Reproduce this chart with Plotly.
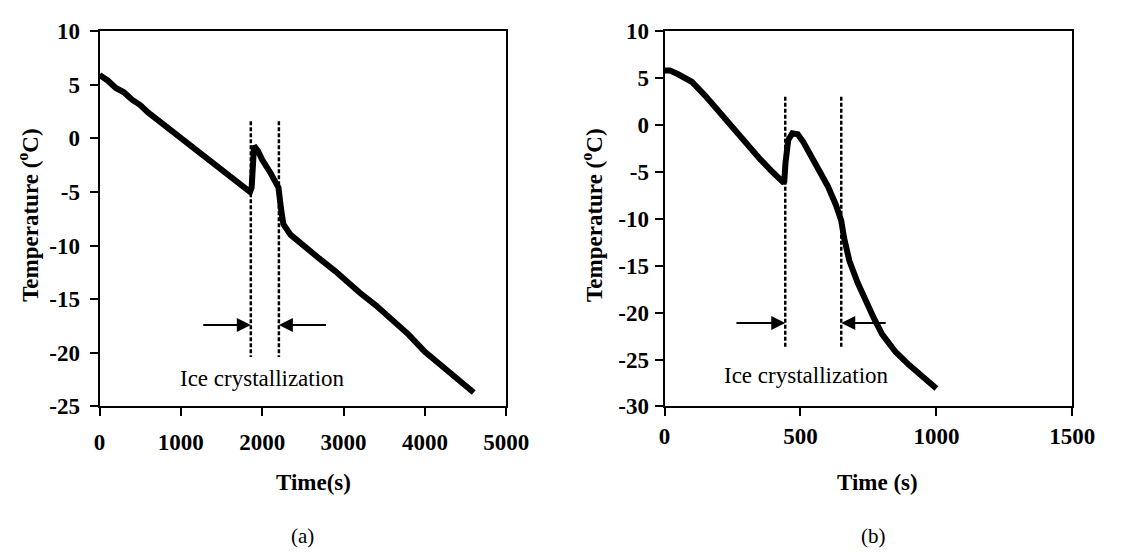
import plotly.graph_objects as go

# ---------------- data ----------------
# Panel (a)
time_a = [0, 100, 200, 300, 400, 500, 600, 700, 800, 900, 1000, 1100, 1200, 1300, 1400,
          1500, 1600, 1700, 1800, 1850, 1870, 1885, 1900, 1950, 2000, 2100, 2200, 2230,
          2260, 2350, 2500, 2700, 2900, 3000, 3200, 3400, 3600, 3800, 4000, 4200, 4400,
          4500, 4600]
temp_a = [5.9, 5.4, 4.7, 4.3, 3.6, 3.1, 2.4, 1.8, 1.2, 0.6, 0.0, -0.5, -1.2, -1.8, -2.3,
          -2.9, -3.5, -4.1, -4.7, -5.0, -4.6, -1.5, -0.7, -1.2, -2.0, -3.2, -4.6, -6.5,
          -8.0, -9.0, -10.0, -11.2, -12.4, -13.1, -14.4, -15.6, -16.9, -18.3, -19.9, -21.2,
          -22.5, -23.0, -23.7]
dash_a_x = [1860, 2205]
dash_a_y = [1.6, -20.4]
arrow_a_y = -17.4
arrow_a_left = [1257, 1860]    # tail, head
arrow_a_right = [2802, 2205]   # tail, head
label_a_pos = [2000, -22.4]

# Panel (b)
time_b = [0, 20, 50, 100, 150, 200, 250, 300, 350, 400, 440, 445, 455, 470, 490, 510, 530,
          560, 600, 630, 650, 660, 680, 710, 740, 770, 800, 850, 900, 950, 1000]
temp_b = [5.8, 5.8, 5.4, 4.6, 3.1, 1.4, -0.2, -1.9, -3.6, -5.1, -6.2, -4.0, -1.6, -0.9,
          -1.0, -1.8, -2.9, -4.4, -6.5, -8.5, -10.2, -12.0, -14.5, -16.8, -18.8, -20.6,
          -22.3, -24.2, -25.6, -26.9, -28.1]
dash_b_x = [444, 650]
dash_b_y = [3.0, -23.8]
arrow_b_y = -21.1
arrow_b_left = [259, 444]
arrow_b_right = [819, 650]
label_b_pos = [523, -26.7]

# ticks
xtick_a = [0, 1000, 2000, 3000, 4000, 5000]
ytick_a = [10, 5, 0, -5, -10, -15, -20, -25]
xtick_b = [0, 500, 1000, 1500]
ytick_b = [10, 5, 0, -5, -10, -15, -20, -25, -30]

label_text = "Ice crystallization"
xtitle_a = "Time(s)"
xtitle_b = "Time (s)"
ytitle = "Temperature (<sup>o</sup>C)"

# ---------------- figure ----------------
W, H = 1123, 556
FONT = "Liberation Serif"
fig = go.Figure()

curve_style = dict(mode="lines", line=dict(color="black", width=6), showlegend=False,
                   hoverinfo="skip")
fig.add_trace(go.Scatter(x=time_a, y=temp_a, xaxis="x", yaxis="y", **curve_style))
fig.add_trace(go.Scatter(x=time_b, y=temp_b, xaxis="x2", yaxis="y2", **curve_style))

dash_style = dict(mode="lines", line=dict(color="black", width=2.5, dash="4px,2px"),
                  showlegend=False, hoverinfo="skip")
for xv in dash_a_x:
    fig.add_trace(go.Scatter(x=[xv, xv], y=dash_a_y, xaxis="x", yaxis="y", **dash_style))
for xv in dash_b_x:
    fig.add_trace(go.Scatter(x=[xv, xv], y=dash_b_y, xaxis="x2", yaxis="y2", **dash_style))

annotations = []


def arrow(xr, yr, tail, head, yv):
    return dict(x=head, y=yv, ax=tail, ay=yv, xref=xr, yref=yr, axref=xr, ayref=yr,
                text="", showarrow=True, arrowhead=2, arrowsize=1.4, arrowwidth=2,
                arrowcolor="black", standoff=0, startstandoff=0)


annotations.append(arrow("x", "y", arrow_a_left[0], arrow_a_left[1], arrow_a_y))
annotations.append(arrow("x", "y", arrow_a_right[0], arrow_a_right[1], arrow_a_y))
annotations.append(arrow("x2", "y2", arrow_b_left[0], arrow_b_left[1], arrow_b_y))
annotations.append(arrow("x2", "y2", arrow_b_right[0], arrow_b_right[1], arrow_b_y))

txt_font = dict(family=FONT, size=23, color="black")
annotations.append(dict(x=label_a_pos[0], y=label_a_pos[1], xref="x", yref="y",
                        text=label_text, showarrow=False, font=txt_font))
annotations.append(dict(x=label_b_pos[0], y=label_b_pos[1], xref="x2", yref="y2",
                        text=label_text, showarrow=False, font=txt_font))

bold_font = dict(family=FONT, size=23, color="black", weight="bold")


def paper(px, py):
    return px / W, 1 - py / H


for (px, py, t) in [(316, 493, xtitle_a), (895, 493, xtitle_b)]:
    xx, yy = paper(px, py)
    annotations.append(dict(x=xx, y=yy, xref="paper", yref="paper", text=t,
                            showarrow=False, font=bold_font, xanchor="center",
                            yanchor="middle"))
for (px, py) in [(23, 212), (602, 212)]:
    xx, yy = paper(px, py)
    annotations.append(dict(x=xx, y=yy, xref="paper", yref="paper", text=ytitle,
                            showarrow=False, font=bold_font, textangle=-90,
                            xanchor="center", yanchor="middle"))
for (px, py, t) in [(304, 549, "(a)"), (890, 549, "(b)")]:
    xx, yy = paper(px, py)
    annotations.append(dict(x=xx, y=yy, xref="paper", yref="paper", text=t,
                            showarrow=False, font=dict(family=FONT, size=21, color="black"),
                            xanchor="center", yanchor="middle"))

axis_common = dict(showline=True, linecolor="black", linewidth=2, mirror=True,
                   ticks="outside", ticklen=8, tickwidth=2, tickcolor="black",
                   showgrid=False, zeroline=False, tickfont=bold_font)

ydom = [1 - 413 / H, 1 - 20 / H]
fig.update_layout(
    width=W, height=H, margin=dict(l=0, r=0, t=0, b=0),
    paper_bgcolor="white", plot_bgcolor="white", showlegend=False,
    xaxis=dict(domain=[96 / W, 513.5 / W], range=[0, 5000], anchor="y",
               tickvals=xtick_a, ticktext=[str(v) for v in xtick_a],
               ticklabelstandoff=6, **axis_common),
    yaxis=dict(domain=ydom, range=[-25, 10], anchor="x",
               tickvals=ytick_a, ticktext=[str(v) for v in ytick_a],
               ticklabelstandoff=5, **axis_common),
    xaxis2=dict(domain=[676 / W, 1094.6 / W], range=[0, 1500], anchor="y2",
                tickvals=xtick_b, ticktext=[str(v) for v in xtick_b],
                ticklabelstandoff=0, **axis_common),
    yaxis2=dict(domain=ydom, range=[-30, 10], anchor="x2",
                tickvals=ytick_b, ticktext=[str(v) for v in ytick_b],
                ticklabelstandoff=1, **axis_common),
    annotations=annotations,
)

fig.write_html("out.html")
